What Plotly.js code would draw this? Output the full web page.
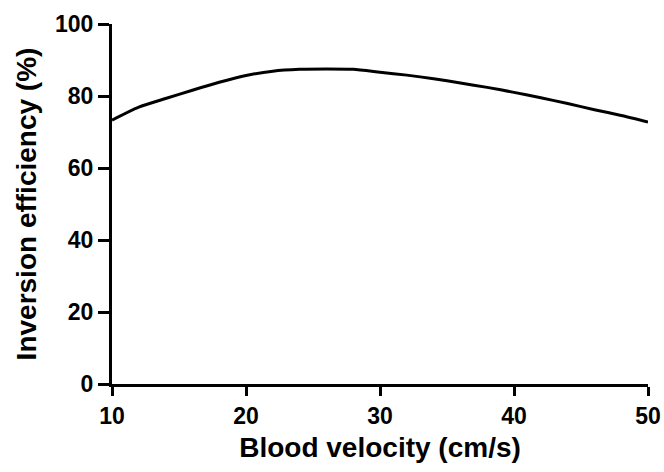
<!DOCTYPE html>
<html>
<head>
<meta charset="utf-8">
<script src="https://cdn.plot.ly/plotly-3.0.1.min.js"></script>
<style>html,body{margin:0;padding:0;background:#fff;}#chart{width:664px;height:472px;}</style>
</head>
<body>
<div id="chart"></div>
<script>
const velocity = [10, 12, 14, 16, 18, 20, 22, 24, 26, 28, 30, 32, 34, 36, 38, 40, 42, 44, 46, 48, 50];
const efficiency = [73.3, 76.9, 79.3, 81.6, 83.8, 85.7, 86.9, 87.4, 87.5, 87.4, 86.6, 85.8, 84.8, 83.6, 82.4, 81.0, 79.5, 77.9, 76.2, 74.6, 72.8];
const xTicks = [10, 20, 30, 40, 50];
const yTicks = [0, 20, 40, 60, 80, 100];

const fontFam = 'Arial, "Liberation Sans", sans-serif';
const trace = {
  x: velocity, y: efficiency, type: 'scatter', mode: 'lines',
  line: {color: '#000', width: 3, shape: 'spline', smoothing: 0.6},
  hoverinfo: 'skip'
};
const layout = {
  width: 664, height: 472,
  margin: {l: 112, r: 16, t: 24, b: 88},
  paper_bgcolor: '#fff', plot_bgcolor: '#fff',
  showlegend: false,
  xaxis: {
    range: [10, 50], tickvals: xTicks, ticktext: xTicks.map(String),
    showgrid: false, zeroline: false, showline: true, linecolor: '#000', linewidth: 3,
    ticks: 'outside', ticklen: 9, tickwidth: 3, tickcolor: '#000',
    tickfont: {family: fontFam, size: 23, color: '#000', weight: 'bold'},
    title: {text: 'Blood velocity (cm/s)', standoff: 10,
      font: {family: fontFam, size: 28, color: '#000', weight: 'bold'}}
  },
  yaxis: {
    range: [0, 100], tickvals: yTicks, ticktext: yTicks.map(String),
    showgrid: false, zeroline: false, showline: true, linecolor: '#000', linewidth: 3,
    ticks: 'outside', ticklen: 11, tickwidth: 3, tickcolor: '#000',
    tickfont: {family: fontFam, size: 23, color: '#000', weight: 'bold'},
    title: {text: 'Inversion efficiency (%)', standoff: 11,
      font: {family: fontFam, size: 28, color: '#000', weight: 'bold'}}
  }
};
Plotly.newPlot('chart', [trace], layout, {staticPlot: true, displayModeBar: false});
</script>
</body>
</html>
